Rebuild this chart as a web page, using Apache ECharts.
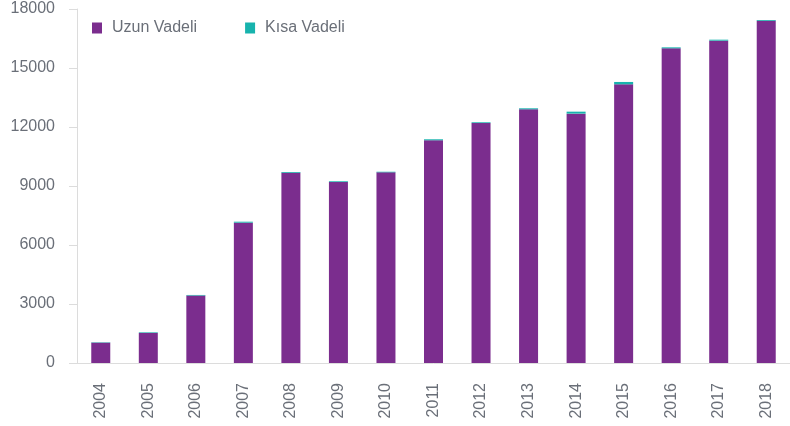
<!DOCTYPE html>
<html>
<head>
<meta charset="utf-8">
<script src="https://cdn.jsdelivr.net/npm/echarts@6/dist/echarts.min.js"></script>
<style>
  html, body { margin: 0; padding: 0; background: #fff; }
  #chart { width: 790px; height: 426px; }
</style>
</head>
<body>
<div id="chart"></div>
<script>
// yıllar
const years = ['2004', '2005', '2006', '2007', '2008', '2009', '2010', '2011', '2012', '2013', '2014', '2015', '2016', '2017', '2018']
// uzun vadeli
const uzunVadeli = [1035, 1530, 3430, 7135, 9670, 9200, 9695, 11325, 12200, 12900, 12680, 14170, 16000, 16390, 17400]
// kısa vadeli
const kisaVadeli = [20, 30, 30, 50, 40, 40, 30, 50, 40, 50, 100, 120, 50, 50, 40]

const textColor = '#6a6f78'
const lineColor = '#dcdcdc'

const chart = echarts.init(document.getElementById('chart'))
chart.setOption({
  animation: false,
  textStyle: { fontFamily: 'Liberation Sans, Arial, sans-serif' },
  legend: {
    left: 87,
    top: 15,
    itemWidth: 10,
    itemHeight: 11,
    itemGap: 48,
    icon: 'rect',
    textStyle: { fontSize: 16, color: textColor, padding: [0, 0, 0, 5] },
    data: ['Uzun Vadeli', 'Kısa Vadeli']
  },
  grid: {
    left: 77,
    right: -6,
    top: 9,
    bottom: 63
  },
  xAxis: {
    type: 'category',
    data: years,
    axisLine: { lineStyle: { color: lineColor, width: 1 } },
    axisTick: { length: 8, lineStyle: { color: lineColor } },
    axisLabel: { rotate: 90, margin: 20, fontSize: 16, color: textColor }
  },
  yAxis: {
    type: 'value',
    min: 0,
    max: 18000,
    interval: 3000,
    axisLine: { show: true, lineStyle: { color: lineColor, width: 1 } },
    axisTick: { show: true, length: 8, lineStyle: { color: lineColor } },
    axisLabel: { margin: 22, fontSize: 16, color: textColor, formatter: v => String(v) },
    splitLine: { show: false }
  },
  series: [
    {
      name: 'Uzun Vadeli',
      type: 'bar',
      stack: 'toplam',
      barWidth: 19,
      itemStyle: { color: '#7b2d8e' },
      data: uzunVadeli
    },
    {
      name: 'Kısa Vadeli',
      type: 'bar',
      stack: 'toplam',
      barWidth: 19,
      itemStyle: { color: '#17b3ad' },
      data: kisaVadeli
    }
  ]
})
</script>
</body>
</html>
